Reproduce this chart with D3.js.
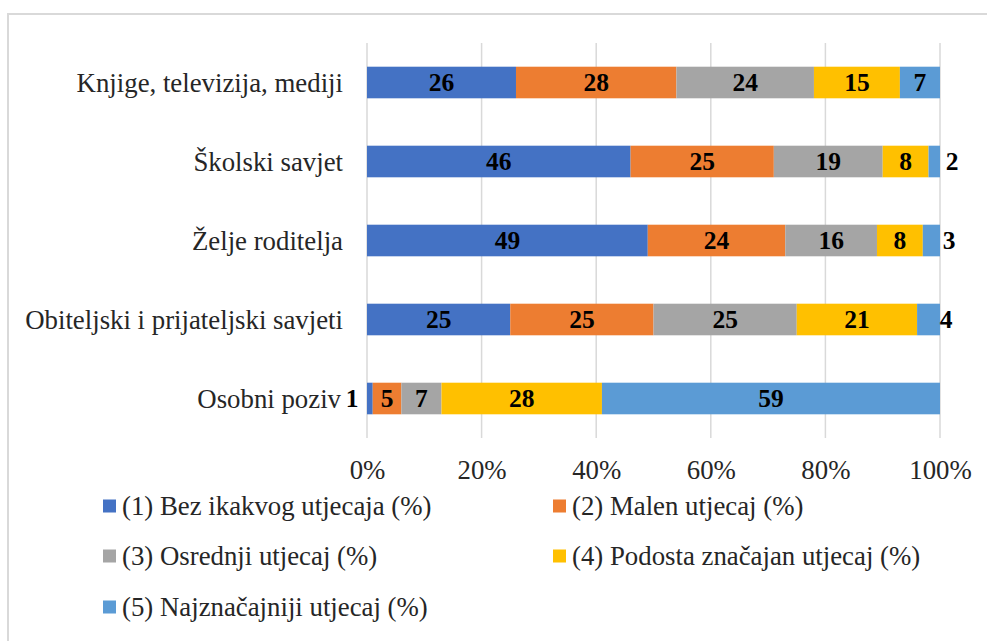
<!DOCTYPE html>
<html>
<head>
<meta charset="utf-8">
<script src="https://cdn.jsdelivr.net/npm/d3@7"></script>
<style>
html,body{margin:0;padding:0;background:#fff;}
svg{display:block;font-family:"Liberation Serif","Times New Roman",serif;}
svg text{font-family:"Liberation Serif","Times New Roman",serif;}
</style>
</head>
<body>
<svg id="chart" width="987" height="641"></svg>
<script>
const categories = ["Knjige, televizija, mediji", "Školski savjet", "Želje roditelja", "Obiteljski i prijateljski savjeti", "Osobni poziv"];
const seriesNames = ["(1) Bez ikakvog utjecaja (%)", "(2) Malen utjecaj (%)", "(3) Osrednji utjecaj (%)", "(4) Podosta značajan utjecaj (%)", "(5) Najznačajniji utjecaj (%)"];
const s1 = [26, 46, 49, 25, 1];
const s2 = [28, 25, 24, 25, 5];
const s3 = [24, 19, 16, 25, 7];
const s4 = [15, 8, 8, 21, 28];
const s5 = [7, 2, 3, 4, 59];
const tickValues = [0, 20, 40, 60, 80, 100];
const colors = ["#4472C4", "#ED7D31", "#A5A5A5", "#FFC000", "#5B9BD5"];

const seriesValues = [s1, s2, s3, s4, s5];
const data = categories.map((c, i) => {
  const o = {cat: c};
  seriesNames.forEach((s, j) => o[s] = seriesValues[j][i]);
  return o;
});
const stacked = d3.stack().keys(seriesNames)(data);

const svg = d3.select("#chart");
const FS = 26.8;
const FSB = 25.5;

// outer border
svg.append("rect").attr("x", 8).attr("y", 14).attr("width", 1000).attr("height", 700)
  .attr("fill", "none").attr("stroke", "#d9d9d9").attr("stroke-width", 2);

const x = d3.scaleLinear().domain([0, 100]).range([367, 940]);
const y = d3.scaleBand().domain(categories).range([43, 438]).paddingInner(0.6).paddingOuter(0.3);

// gridlines
svg.append("g").selectAll("line").data(tickValues).join("line")
  .attr("x1", d => x(d)).attr("x2", d => x(d))
  .attr("y1", 43).attr("y2", 438)
  .attr("stroke", "#d9d9d9").attr("stroke-width", 1.5);

// x axis labels
const xAxis = d3.axisBottom(x).tickValues(tickValues).tickFormat(d => d + "%").tickSize(0).tickPadding(0);
const gx = svg.append("g").attr("transform", "translate(0,438)").call(xAxis);
gx.attr("font-family", null).attr("font-size", null);
gx.select(".domain").remove();
gx.selectAll("text").attr("font-size", FS)
  .attr("fill", "#262626").attr("dy", null).attr("y", 41);

// y axis labels
const yAxis = d3.axisLeft(y).tickSize(0).tickPadding(0);
const gy = svg.append("g").attr("transform", "translate(343,0)").call(yAxis);
gy.attr("font-family", null).attr("font-size", null);
gy.select(".domain").remove();
gy.selectAll("text").attr("font-size", FS)
  .attr("fill", "#262626").attr("x", 0).attr("dy", "0.34em");
gy.selectAll(".tick").filter(d => d === "Osobni poziv").select("text").attr("x", -2);

// bars
const layers = svg.append("g").selectAll("g").data(stacked).join("g").attr("fill", (d, i) => colors[i]);
layers.selectAll("rect").data(d => d).join("rect")
  .attr("x", d => x(d[0])).attr("width", d => x(d[1]) - x(d[0]))
  .attr("y", d => y(d.data.cat)).attr("height", y.bandwidth());

// labels
const labels = [];
stacked.forEach((layer, j) => {
  layer.forEach(d => {
    const v = d[1] - d[0];
    labels.push({v, x0: d[0], x1: d[1], cat: d.data.cat, j});
  });
});
svg.append("g").selectAll("text").data(labels).join("text")
  .attr("font-size", FSB).attr("font-weight", "bold").attr("fill", "#000")
  .attr("text-anchor", "middle").attr("dy", "0.34em")
  .attr("y", d => y(d.cat) + y.bandwidth() / 2)
  .attr("x", d => {
    if (d.v <= 1 && d.j === 0) return x(d.x0) - 15;
    if (d.v <= 4 && d.j === 4) return x(d.x1) + (d.v === 2 ? 12 : d.v === 3 ? 9 : 6);
    return (x(d.x0) + x(d.x1)) / 2;
  })
  .text(d => d.v);

// legend
const legendPos = [[103, 506], [553, 506], [103, 556], [553, 556], [103, 607]];
const lg = svg.append("g").selectAll("g").data(seriesNames).join("g")
  .attr("transform", (d, i) => `translate(${legendPos[i][0]},${legendPos[i][1]})`);
lg.append("rect").attr("x", 0).attr("y", -6.5).attr("width", 13).attr("height", 13).attr("fill", (d, i) => colors[i]);
lg.append("text").attr("x", 19).attr("dy", "0.34em").attr("font-size", FS).attr("fill", "#262626").text(d => d);
</script>
</body>
</html>
